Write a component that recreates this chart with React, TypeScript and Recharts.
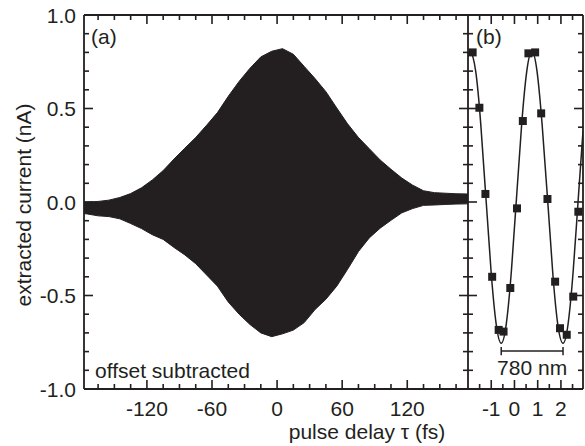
import React from 'react';
import { ComposedChart, Area, Line, Scatter, XAxis, YAxis, ReferenceLine } from 'recharts';

// ---------- Panel (a): envelope of the oscillating current trace ----------
const delayFs = [-178, -175, -165, -155, -145, -135, -125, -115, -105, -95, -85, -75, -65, -55, -45, -35, -25, -15, -5, 5, 15, 25, 35, 45, 55, 65, 75, 85, 95, 105, 115, 125, 135, 145, 155, 165, 175, 176];
const upperEnv = [0.0, 0.0, 0.003, 0.01, 0.024, 0.045, 0.076, 0.118, 0.168, 0.23, 0.288, 0.345, 0.41, 0.478, 0.565, 0.645, 0.715, 0.776, 0.806, 0.82, 0.79, 0.725, 0.66, 0.59, 0.503, 0.418, 0.345, 0.285, 0.225, 0.175, 0.128, 0.09, 0.06, 0.05, 0.047, 0.044, 0.043, 0.043];
const lowerEnv = [-0.062, -0.064, -0.074, -0.078, -0.09, -0.115, -0.142, -0.175, -0.2, -0.243, -0.283, -0.33, -0.39, -0.45, -0.535, -0.6, -0.655, -0.7, -0.72, -0.705, -0.685, -0.645, -0.575, -0.52, -0.45, -0.36, -0.265, -0.192, -0.14, -0.098, -0.058, -0.035, -0.018, -0.016, -0.013, -0.011, -0.01, -0.01];

const domainA: [number, number] = [-178, 176];
const domainY: [number, number] = [-1, 1];
const ticksA = [-165, -150, -135, -120, -105, -90, -75, -60, -45, -30, -15, 0, 15, 30, 45, 60, 75, 90, 105, 120, 135, 150, 165];
const majorA = [-120, -60, 0, 60, 120];
const ticksY = [-1.0, -0.9, -0.8, -0.7, -0.6, -0.5, -0.4, -0.3, -0.2, -0.1, 0, 0.1, 0.2, 0.3, 0.4, 0.5, 0.6, 0.7, 0.8, 0.9, 1.0];
const majorY = [-1, -0.5, 0, 0.5, 1];

// ---------- Panel (b): zoom with measured points and fit ----------
const domainB: [number, number] = [-2, 2.95];
const pointX = [-1.8, -1.51, -1.25, -0.96, -0.68, -0.47, -0.18, 0.11, 0.36, 0.6, 0.89, 1.15, 1.42, 1.75, 1.96, 2.25, 2.53, 2.75];
const pointY = [0.8, 0.504, 0.043, -0.4, -0.684, -0.693, -0.46, -0.034, 0.433, 0.795, 0.8, 0.474, 0.016, -0.426, -0.675, -0.71, -0.506, -0.052];
const fitX = [-2.0, -1.89, -1.67, -1.45, -1.23, -1.01, -0.79, -0.57, -0.35, -0.13, 0.09, 0.31, 0.53, 0.75, 0.97, 1.19, 1.42, 1.64, 1.86, 2.09, 2.31, 2.53, 2.75, 2.95];
const fitY = [0.778, 0.805, 0.7, 0.415, 0.025, -0.365, -0.65, -0.755, -0.65, -0.365, 0.025, 0.415, 0.7, 0.805, 0.7, 0.415, 0.025, -0.365, -0.65, -0.755, -0.65, -0.365, 0.025, 0.379];
const ticksB = [-1.5, -1, -0.5, 0, 0.5, 1, 1.5, 2, 2.5];
const majorB = [-1, 0, 1, 2];
const bracketFrom = -0.57;
const bracketTo = 2.09;
const bracketY = -0.797;
const bracketCap = 0.022;
const bracketLabel = '780 nm';

const dataA = delayFs.map((d, i) => ({ delay: d, range: [lowerEnv[i], upperEnv[i]] }));
const fitData = fitX.map((x, i) => ({ x, y: fitY[i] }));
const pointData = pointX.map((x, i) => ({ x, y: pointY[i] }));

const INK = '#231f20';
const FONT = '"Liberation Sans", Arial, Helvetica, sans-serif';
const FS = 21;
const TW = 1.6;
// tick lengths in pixels
const MAJ_PX = 9;
const MIN_PX = 5;
const PLOT_H = 374;
const PLOT_W_A = 384;
const PLOT_W_B = 115;

const has = (arr: number[], v: number) => arr.some((a) => Math.abs(a - v) < 1e-6);

// inward tick marks drawn as reference segments through the chart's own scales
function frameTicks(prefix: string, xTicks: number[], xMajor: number[], xDom: [number, number], plotW: number) {
  const yUnit = (domainY[1] - domainY[0]) / PLOT_H;
  const xUnit = (xDom[1] - xDom[0]) / plotW;
  const out: any[] = [];
  xTicks.forEach((t, i) => {
    const l = (has(xMajor, t) ? MAJ_PX : MIN_PX) * yUnit;
    out.push(<ReferenceLine key={`${prefix}xb${i}`} ifOverflow="visible" segment={[{ x: t, y: domainY[0] }, { x: t, y: domainY[0] + l }]} stroke={INK} strokeWidth={TW} />);
    out.push(<ReferenceLine key={`${prefix}xt${i}`} ifOverflow="visible" segment={[{ x: t, y: domainY[1] }, { x: t, y: domainY[1] - l }]} stroke={INK} strokeWidth={TW} />);
  });
  ticksY.forEach((t, i) => {
    if (Math.abs(Math.abs(t) - 1) < 1e-6) return;
    const l = (has(majorY, t) ? MAJ_PX : MIN_PX) * xUnit;
    out.push(<ReferenceLine key={`${prefix}yl${i}`} ifOverflow="visible" segment={[{ x: xDom[0], y: t }, { x: xDom[0] + l, y: t }]} stroke={INK} strokeWidth={TW} />);
    out.push(<ReferenceLine key={`${prefix}yr${i}`} ifOverflow="visible" segment={[{ x: xDom[1], y: t }, { x: xDom[1] - l, y: t }]} stroke={INK} strokeWidth={TW} />);
  });
  return out;
}

const bottomLabel = (major: number[]) => (p: any) => {
  const v = p.payload.value;
  if (!has(major, v)) return <g />;
  return (
    <text x={p.x} y={p.y + 27} textAnchor="middle" fontSize={FS} fontFamily={FONT} fill={INK}>
      {String(v)}
    </text>
  );
};
const leftLabel = (p: any) => {
  const v = p.payload.value;
  if (!has(majorY, v)) return <g />;
  return (
    <text x={p.x - 8} y={p.y} dy="0.36em" textAnchor="end" fontSize={FS} fontFamily={FONT} fill={INK}>
      {v.toFixed(1)}
    </text>
  );
};
const noLabel = () => <g />;

const axisLine = { stroke: INK, strokeWidth: 1.8 };

export default function App() {
  return (
    <div style={{ position: 'absolute', left: 0, top: 0, width: 585, height: 446, background: '#fff', overflow: 'hidden' }}>
      <div style={{ position: 'absolute', left: 0, top: 0 }}>
        <ComposedChart width={468} height={446} data={dataA} margin={{ top: 0, right: 0, bottom: 0, left: 0 }}>
          <XAxis dataKey="delay" type="number" domain={domainA} allowDataOverflow ticks={ticksA} interval={0}
            height={57} tickSize={0} tickMargin={0} tickLine={false} axisLine={axisLine} tick={bottomLabel(majorA)} />
          <XAxis xAxisId="top" orientation="top" dataKey="delay" type="number" domain={domainA} allowDataOverflow
            ticks={ticksA} interval={0} height={15} tickSize={0} tickMargin={0} tickLine={false} axisLine={axisLine} tick={noLabel} />
          <YAxis type="number" domain={domainY} allowDataOverflow ticks={ticksY} interval={0} width={84}
            tickSize={0} tickMargin={0} tickLine={false} axisLine={axisLine} tick={leftLabel} />
          <YAxis yAxisId="right" orientation="right" type="number" domain={domainY} allowDataOverflow ticks={ticksY}
            interval={0} width={0} tickSize={0} tickMargin={0} tickLine={false} axisLine={axisLine} tick={noLabel} />
          <Area dataKey="range" type="linear" stroke={INK} strokeWidth={1} fill={INK} fillOpacity={1} isAnimationActive={false} dot={false} activeDot={false} />
          {frameTicks('a', ticksA, majorA, domainA, PLOT_W_A)}
        </ComposedChart>
      </div>
      <div style={{ position: 'absolute', left: 460, top: 0 }}>
        <ComposedChart width={125} height={446} margin={{ top: 0, right: 0, bottom: 0, left: 0 }}>
          <XAxis dataKey="x" type="number" domain={domainB} allowDataOverflow ticks={ticksB} interval={0}
            height={57} tickSize={0} tickMargin={0} tickLine={false} axisLine={axisLine} tick={bottomLabel(majorB)} />
          <XAxis xAxisId="top" orientation="top" dataKey="x" type="number" domain={domainB} allowDataOverflow
            ticks={ticksB} interval={0} height={15} tickSize={0} tickMargin={0} tickLine={false} axisLine={axisLine} tick={noLabel} />
          <YAxis type="number" domain={domainY} allowDataOverflow ticks={ticksY} interval={0} width={8}
            tickSize={0} tickMargin={0} tickLine={false} axisLine={axisLine} tick={noLabel} />
          <YAxis yAxisId="right" orientation="right" type="number" domain={domainY} allowDataOverflow ticks={ticksY}
            interval={0} width={2} tickSize={0} tickMargin={0} tickLine={false} axisLine={axisLine} tick={noLabel} />
          <Line data={fitData} dataKey="y" type="natural" stroke={INK} strokeWidth={1.5} dot={false} activeDot={false} isAnimationActive={false} />
          <Scatter data={pointData} dataKey="y" shape="square" fill={INK} isAnimationActive={false} />
          <ReferenceLine segment={[{ x: bracketFrom, y: bracketY }, { x: bracketTo, y: bracketY }]} stroke={INK} strokeWidth={1.5}
            label={{ value: bracketLabel, position: 'bottom', offset: 9, fontSize: FS, fontFamily: FONT, fill: INK }} />
          <ReferenceLine segment={[{ x: bracketFrom, y: bracketY - bracketCap }, { x: bracketFrom, y: bracketY + bracketCap }]} stroke={INK} strokeWidth={1.5} />
          <ReferenceLine segment={[{ x: bracketTo, y: bracketY - bracketCap }, { x: bracketTo, y: bracketY + bracketCap }]} stroke={INK} strokeWidth={1.5} />
          {frameTicks('b', ticksB, majorB, domainB, PLOT_W_B)}
        </ComposedChart>
      </div>
      <svg width={585} height={446} style={{ position: 'absolute', left: 0, top: 0, pointerEvents: 'none' }}>
        <g fontFamily={FONT} fontSize={FS} fill={INK}>
          <text x={91} y={44}>(a)</text>
          <text x={476} y={44}>(b)</text>
          <text x={95} y={378}>offset subtracted</text>
          <text x={367} y={439} textAnchor="middle">pulse delay τ (fs)</text>
          <text x={31} y={205} textAnchor="middle" transform="rotate(-90 31 205)">extracted current (nA)</text>
        </g>
      </svg>
    </div>
  );
}
